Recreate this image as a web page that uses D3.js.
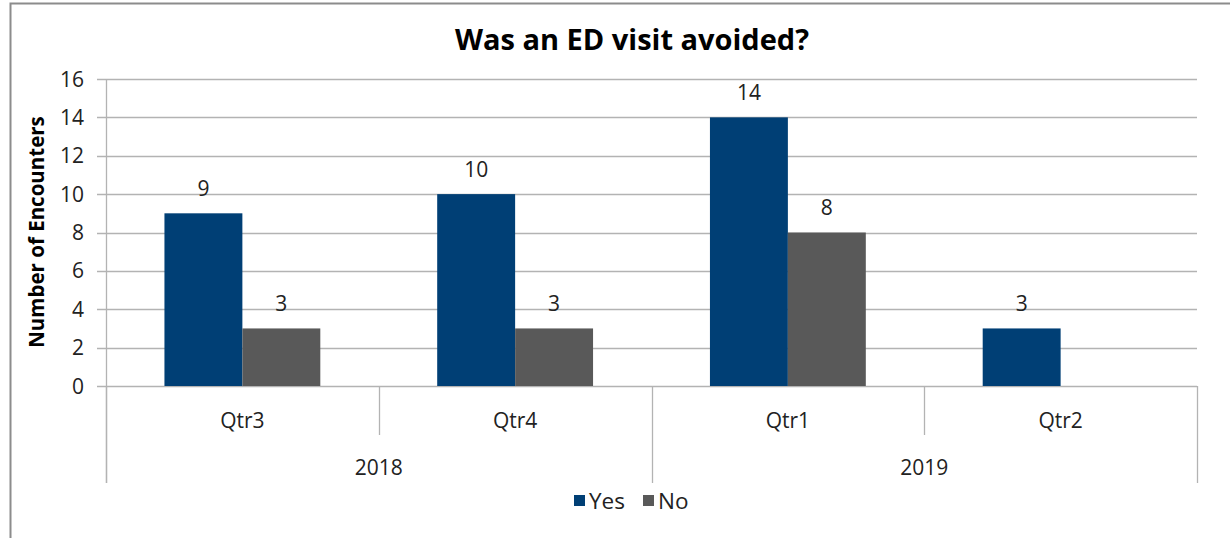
<!DOCTYPE html>
<html><head><meta charset="utf-8">
<script src="https://cdn.jsdelivr.net/npm/d3@7"></script>
<style>
html,body{margin:0;padding:0;background:#fff;}
svg{display:block;font-family:"Open Sans",sans-serif;}
</style></head>
<body><svg id="c" width="1230" height="538"></svg>
<script>
const quarters = ["Qtr3","Qtr4","Qtr1","Qtr2"];
const years = ["2018","2019"];
const yearOfQuarter = ["2018","2018","2019","2019"];
const seriesNames = ["Yes","No"];
const yesValues = [9,10,14,3];
const noValues = [3,3,8,null];
const yTicks = [0,2,4,6,8,10,12,14,16];
const colors = {Yes:"#003f75", No:"#595959"};

const svg = d3.select("#c");
const L=106, R=1197, T=79, B=386;
const FS = 21;

// outer border
svg.append("path").attr("d","M10.5,538 L10.5,3.5 L1230,3.5").attr("fill","none").attr("stroke","#8c8c8c").attr("stroke-width",2);

const y = d3.scaleLinear().domain([0,16]).range([B,T]);
const x = d3.scaleBand().domain(quarters).range([L,R]).paddingInner(0).paddingOuter(0);
const xs = d3.scaleBand().domain(seriesNames).range([0,x.bandwidth()]).paddingInner(0).paddingOuter(0.75);

// grid
svg.append("g").selectAll("line").data(yTicks).join("line")
  .attr("x1",97).attr("x2",R).attr("y1",d=>Math.round(y(d))+0.5).attr("y2",d=>Math.round(y(d))+0.5)
  .attr("stroke","#b3b3b3").attr("stroke-width",1.3);

// y axis line
svg.append("line").attr("x1",L+0.5).attr("x2",L+0.5).attr("y1",T).attr("y2",483).attr("stroke","#b3b3b3").attr("stroke-width",1.3);

// y tick labels
svg.append("g").selectAll("text").data(yTicks).join("text")
  .attr("x",84).attr("y",d=>y(d)).attr("dy","0.36em").attr("text-anchor","end")
  .attr("font-size",FS).attr("fill","#222").text(d=>d);

// bars
const data = quarters.map((q,i)=>({q, vals:[{s:"Yes",v:yesValues[i]},{s:"No",v:noValues[i]}]}));
const g = svg.append("g");
data.forEach(d=>{
  d.vals.forEach(e=>{
    if(e.v==null) return;
    g.append("rect").attr("x",x(d.q)+xs(e.s)).attr("width",xs.bandwidth())
      .attr("y",y(e.v)).attr("height",B-y(e.v)).attr("fill",colors[e.s]);
    g.append("text").attr("x",x(d.q)+xs(e.s)+xs.bandwidth()/2).attr("y",y(e.v)-25)
      .attr("dy","0.36em")
      .attr("text-anchor","middle").attr("font-size",FS).attr("fill","#222").text(e.v);
  });
});

// x-axis category dividers
const qBounds = quarters.map(q=>x(q)).concat([R]);
svg.append("g").selectAll("line").data(qBounds).join("line")
  .attr("x1",d=>Math.round(d)+0.5).attr("x2",d=>Math.round(d)+0.5)
  .attr("y1",B).attr("y2",(d,i)=> (i===0||i===qBounds.length-1||i===2)?483:435)
  .attr("stroke","#b3b3b3").attr("stroke-width",1.3);

svg.append("g").selectAll("text").data(quarters).join("text")
  .attr("x",d=>x(d)+x.bandwidth()/2).attr("y",420).attr("dy","0.36em")
  .attr("text-anchor","middle").attr("font-size",FS).attr("fill","#222").text(d=>d);

svg.append("g").selectAll("text").data(years).join("text")
  .attr("x",yr=>{const qs=quarters.filter((q,i)=>yearOfQuarter[i]===yr); return (x(qs[0])+x(qs[qs.length-1])+x.bandwidth())/2;})
  .attr("y",467).attr("dy","0.36em")
  .attr("text-anchor","middle").attr("font-size",FS).attr("fill","#222").text(d=>d);

// title
svg.append("text").attr("x",632).attr("y",40).attr("dy","0.36em").attr("text-anchor","middle")
  .attr("font-size",29).attr("font-weight","bold").attr("fill","#000").text("Was an ED visit avoided?");

// y title
svg.append("text").attr("transform","translate(37,232) rotate(-90)").attr("dy","0.36em")
  .attr("text-anchor","middle").attr("font-size",20.5).attr("font-weight","bold").attr("fill","#000").text("Number of Encounters");

// legend
const leg = svg.append("g");
const legX = [574,643];
seriesNames.forEach((s,i)=>{
  leg.append("rect").attr("x",legX[i]).attr("y",495).attr("width",11).attr("height",11).attr("fill",colors[s]);
  leg.append("text").attr("x",legX[i]+15).attr("y",501).attr("dy","0.36em").attr("font-size",22.5).attr("fill","#222").text(s);
});
</script></body></html>
